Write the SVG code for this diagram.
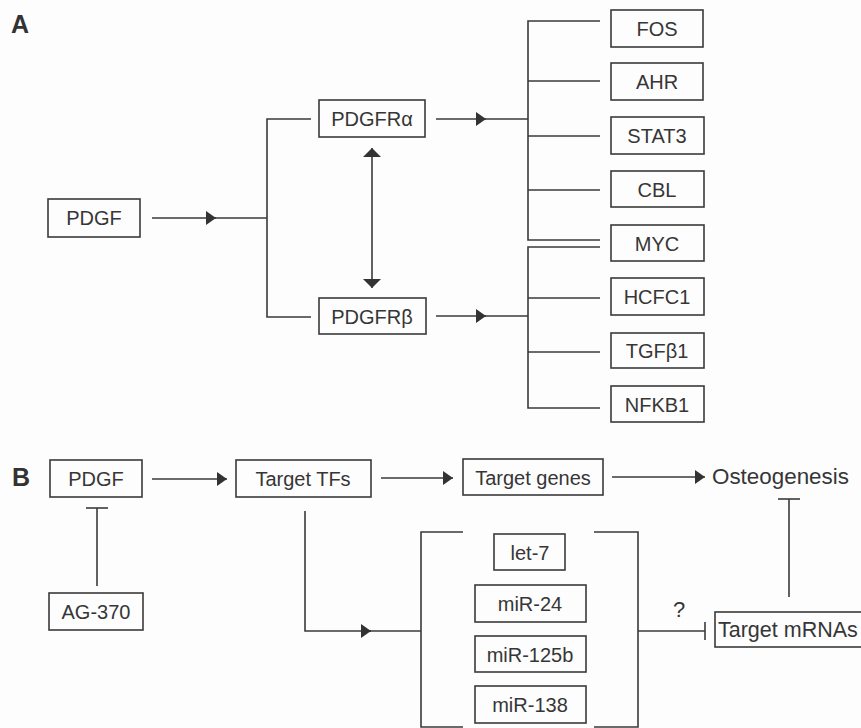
<svg xmlns="http://www.w3.org/2000/svg" width="861" height="728" viewBox="0 0 861 728">
<style>
.bg{fill:#fdfdfd}
.box rect{fill:none;stroke:#3a3a3a;stroke-width:1.6}
.box text,.lbl{font-family:"Liberation Sans",Arial,sans-serif;font-size:20px;fill:#363636;text-anchor:middle}
.ln{fill:none;stroke:#3a3a3a;stroke-width:1.6}
.panel{font-family:"Liberation Sans",Arial,sans-serif;font-size:25px;font-weight:bold;fill:#333}
</style>
<defs>
<marker id="ah" markerUnits="userSpaceOnUse" markerWidth="11" markerHeight="14" refX="10" refY="7" orient="auto">
<path d="M0,0 L10,7 L0,14 z" fill="#333"/>
</marker>
<marker id="av" markerUnits="userSpaceOnUse" markerWidth="10" markerHeight="18" refX="9" refY="9" orient="auto-start-reverse">
<path d="M0,0 L9,9 L0,18 z" fill="#333"/>
</marker>
</defs>
<rect class="bg" x="0" y="0" width="861" height="728"/>
<text class="panel" x="11" y="33">A</text>
<text class="panel" x="12" y="486">B</text>

<g id="connectors">
<!-- A -->
<line class="ln" x1="152" y1="218" x2="216" y2="218" marker-end="url(#ah)"/>
<line class="ln" x1="214" y1="218" x2="267" y2="218"/>
<polyline class="ln" points="311,119 267,119 267,317 311,317"/>
<line class="ln" x1="372" y1="148" x2="372" y2="288" marker-start="url(#av)" marker-end="url(#av)"/>
<line class="ln" x1="436" y1="119" x2="486" y2="119" marker-end="url(#ah)"/>
<line class="ln" x1="484" y1="119" x2="528" y2="119"/>
<polyline class="ln" points="600,21 528,21 528,240 600,240"/>
<line class="ln" x1="528" y1="81" x2="600" y2="81"/>
<line class="ln" x1="528" y1="136" x2="600" y2="136"/>
<line class="ln" x1="528" y1="190" x2="600" y2="190"/>
<line class="ln" x1="436" y1="316" x2="486" y2="316" marker-end="url(#ah)"/>
<line class="ln" x1="484" y1="316" x2="528" y2="316"/>
<polyline class="ln" points="600,247 528,247 528,408 600,408"/>
<line class="ln" x1="528" y1="298" x2="600" y2="298"/>
<line class="ln" x1="528" y1="352" x2="600" y2="352"/>
<!-- B -->
<line class="ln" x1="152" y1="479" x2="227" y2="479" marker-end="url(#ah)"/>
<line class="ln" x1="381" y1="478" x2="453" y2="478" marker-end="url(#ah)"/>
<line class="ln" x1="612" y1="477" x2="705" y2="477" marker-end="url(#ah)"/>
<line class="ln" x1="97" y1="586" x2="97" y2="508"/>
<line class="ln" x1="86" y1="508" x2="108" y2="508"/>
<polyline class="ln" points="305,511 305,631 371,631"/>
<line class="ln" x1="369" y1="631" x2="421" y2="631"/>
<line class="ln" x1="361" y1="631" x2="371" y2="631" marker-end="url(#ah)"/>
<polyline class="ln" points="463,532 421,532 421,727 463,727"/>
<polyline class="ln" points="594,532 638,532 638,727 594,727"/>
<line class="ln" x1="638" y1="631" x2="705" y2="631"/>
<line class="ln" x1="705" y1="622" x2="705" y2="640"/>
<line class="ln" x1="789" y1="597" x2="789" y2="499"/>
<line class="ln" x1="778" y1="499" x2="800" y2="499"/>
</g>

<g id="a-pdgf" class="box"><rect x="48" y="199" width="92" height="38"/><text x="94" y="225">PDGF</text></g>
<g id="pdgfra" class="box"><rect x="319" y="100" width="106" height="37"/><text x="372" y="126">PDGFRα</text></g>
<g id="pdgfrb" class="box"><rect x="319" y="298" width="107" height="36"/><text x="372" y="324">PDGFRβ</text></g>
<g id="fos" class="box"><rect x="611" y="10" width="92" height="37"/><text x="657" y="36">FOS</text></g>
<g id="ahr" class="box"><rect x="611" y="63" width="92" height="37"/><text x="657" y="89">AHR</text></g>
<g id="stat3" class="box"><rect x="611" y="117" width="93" height="37"/><text x="657" y="143">STAT3</text></g>
<g id="cbl" class="box"><rect x="611" y="171" width="93" height="36"/><text x="657" y="197">CBL</text></g>
<g id="myc" class="box"><rect x="611" y="225" width="93" height="36"/><text x="657" y="251">MYC</text></g>
<g id="hcfc1" class="box"><rect x="611" y="278" width="93" height="37"/><text x="657" y="304">HCFC1</text></g>
<g id="tgfb1" class="box"><rect x="611" y="333" width="93" height="35"/><text x="657" y="358">TGFβ1</text></g>
<g id="nfkb1" class="box"><rect x="611" y="386" width="93" height="36"/><text x="657" y="412">NFKB1</text></g>

<g id="b-pdgf" class="box"><rect x="50" y="460" width="92" height="37"/><text x="96" y="486">PDGF</text></g>
<g id="ag370" class="box"><rect x="49" y="593" width="94" height="37"/><text x="96" y="619">AG-370</text></g>
<g id="target-tfs" class="box"><rect x="236" y="460" width="135" height="37"/><text x="303" y="486">Target TFs</text></g>
<g id="target-genes" class="box"><rect x="463" y="459" width="140" height="36"/><text x="533" y="485">Target genes</text></g>
<g id="osteogenesis"><text class="lbl" x="712" y="484" style="text-anchor:start;font-size:22.4px">Osteogenesis</text></g>
<g id="target-mrnas" class="box"><rect x="715" y="612" width="160" height="35"/><text x="718" y="637" style="text-anchor:start;font-size:21.5px">Target mRNAs</text></g>
<g id="let7" class="box"><rect x="494" y="534" width="71" height="36"/><text x="530" y="560">let-7</text></g>
<g id="mir24" class="box"><rect x="475" y="585" width="111" height="37"/><text x="530" y="611">miR-24</text></g>
<g id="mir125b" class="box"><rect x="475" y="636" width="111" height="36"/><text x="530" y="662">miR-125b</text></g>
<g id="mir138" class="box"><rect x="475" y="686" width="111" height="37"/><text x="530" y="712">miR-138</text></g>
<g id="question"><text class="lbl" x="679" y="617" style="font-size:22px">?</text></g>
</svg>
